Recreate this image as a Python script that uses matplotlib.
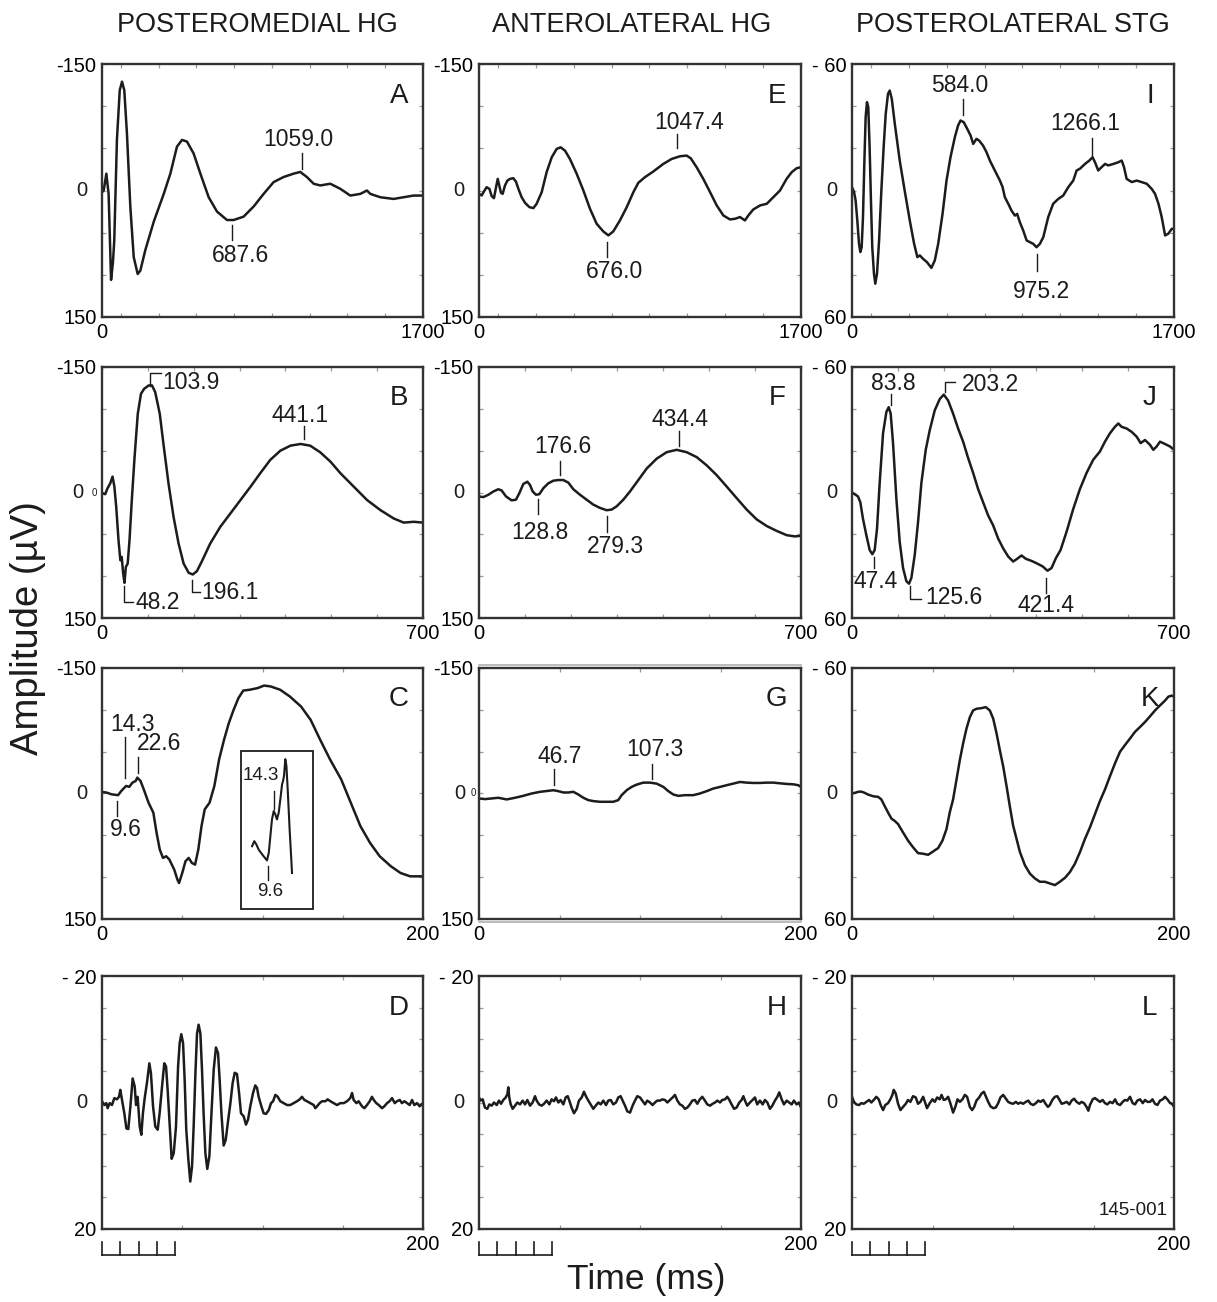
import numpy as np
import matplotlib
matplotlib.use("Agg")
import matplotlib.pyplot as plt
import matplotlib.transforms as mtransforms
from matplotlib.patches import Rectangle

plt.rcParams.update({
    "font.family": ["Liberation Sans", "DejaVu Sans"],
    "figure.facecolor": "white",
    "savefig.facecolor": "white",
})

INK = "#1c1c1c"
FRAME = "#333333"
TICK = "#9a9a9a"

# ---------------------------------------------------------------- data
COLUMN_TITLES = ["POSTEROMEDIAL HG", "ANTEROLATERAL HG", "POSTEROLATERAL STG"]
GRID = [["A", "E", "I"], ["B", "F", "J"], ["C", "G", "K"], ["D", "H", "L"]]
ROW_XMAX = [1700, 700, 200, 200]                      # ms
ROW_XMINOR = [list(range(100, 1700, 200)), list(range(100, 700, 100)),
              [50, 100, 150], [50, 100, 150]]
YMAX = {"A": 150, "B": 150, "C": 150, "D": 20,
        "E": 150, "F": 150, "G": 150, "H": 20,
        "I": 60, "J": 60, "K": 60, "L": 20}           # µV, negative up
YLABELS = {150: ["-150", "150"], 60: ["- 60", "60"], 20: ["- 20", "20"]}
YMINOR = {150: 50, 60: 20, 20: 5}

# (time ms, amplitude µV)
A_WAVE = [(0, 2), (9, 0), (23, -20), (35, 4), (48, 106), (58, 85), (65, 59), (79, -60),
          (94, -119), (106, -129), (118, -119), (132, -68), (150, 19), (168, 79), (189, 99),
          (203, 95), (229, 71), (274, 37), (327, 4), (362, -20), (397, -52), (424, -60),
          (450, -58), (485, -44), (521, -20), (565, 8), (609, 25), (662, 35), (697, 35),
          (750, 31), (803, 19), (856, 4), (909, -10), (962, -16), (1015, -20), (1050, -22),
          (1085, -16), (1121, -8), (1156, -6), (1209, -8), (1262, -2), (1315, 6), (1368, 4),
          (1403, 0), (1421, 4), (1474, 8), (1544, 10), (1597, 8), (1650, 6), (1700, 6)]
B_WAVE = [(0, 0), (2, 1), (7, 2), (12, -5), (18, -11), (23, -19), (27, -7), (31, 17), (36, 57),
          (40, 81), (43, 77), (46, 96), (49, 108), (52, 89), (56, 85), (60, 57), (65, 9),
          (71, -42), (78, -94), (85, -118), (92, -124), (102, -128), (109, -128), (116, -120),
          (126, -94), (134, -58), (145, -11), (156, 29), (167, 61), (178, 85), (189, 96),
          (198, 98), (207, 94), (218, 82), (236, 61), (258, 41), (280, 25), (302, 9), (324, -7),
          (345, -23), (367, -39), (389, -50), (411, -56), (433, -58), (454, -56), (476, -48),
          (498, -37), (520, -23), (549, -7), (578, 9), (607, 21), (636, 31), (658, 36),
          (680, 35), (700, 36)]
C_WAVE = [(0, -2), (3, -1), (6, 1), (10, 2), (12, -3), (14, -7), (15, -9), (17, -8), (19, -13),
          (21, -15), (22, -19), (24, -15), (26, -5), (29, 11), (32, 23), (34, 47), (36, 67),
          (38, 77), (40, 75), (42, 79), (45, 91), (47, 103), (48, 107), (50, 95), (52, 81),
          (54, 77), (56, 83), (58, 85), (60, 67), (62, 39), (64, 19), (67, 11), (70, -9),
          (73, -41), (76, -64), (79, -84), (82, -100), (85, -114), (88, -123), (92, -124),
          (97, -126), (101, -129), (105, -128), (111, -124), (117, -116), (124, -104),
          (130, -88), (136, -64), (142, -41), (149, -17), (155, 11), (161, 39), (167, 59),
          (173, 75), (180, 87), (186, 95), (192, 99), (200, 99)]
C_INSET_WAVE = [(93.5, 63), (94.9, 57), (96.2, 61), (97.6, 67), (99.1, 71), (100.7, 75),
                (102.8, 80), (103.9, 71), (104.9, 51), (105.9, 31), (107.0, 21), (108.0, 25),
                (109.0, 31), (110.1, 23), (111.1, 7), (112.2, -11), (112.8, -15), (113.4, -21),
                (114.2, -41), (114.9, -33), (115.7, -5), (116.9, 43), (118.4, 95)]
D_WAVE = [(0.0, -0.2), (1.5, 0.4), (2.7, 0.1), (3.5, 0.9), (4.8, 0.1), (6.2, 0.4), (7.7, -0.7),
          (9.3, -0.5), (10.6, -0.9), (11.4, -2.0), (12.5, -0.4), (13.9, 1.7), (15.2, 4.1),
          (16.4, 4.2), (17.7, 0.6), (19.1, -3.8), (20.4, -2.5), (21.2, 0.4), (22.2, -0.9),
          (23.5, 3.8), (24.5, 5.1), (25.5, 1.7), (26.6, -0.7), (28.0, -3.1), (29.5, -6.2),
          (30.5, -4.6), (31.8, 0.6), (33.2, 3.8), (34.7, 4.3), (35.9, 1.7), (37.4, -2.5),
          (38.8, -6.2), (39.9, -5.7), (40.9, -2.0), (42.2, 3.8), (43.4, 8.9), (44.7, 8.0),
          (46.1, 3.8), (47.4, -5.7), (48.4, -9.4), (49.4, -10.8), (50.5, -9.4), (51.5, -3.6),
          (52.5, 4.3), (53.8, 9.0), (55.0, 12.5), (56.1, 10.1), (57.1, 3.8), (58.2, -4.6),
          (59.2, -10.9), (60.2, -12.3), (61.3, -10.9), (62.3, -5.2), (63.3, 1.7), (64.4, 8.0),
          (65.6, 10.5), (66.9, 8.5), (68.1, 2.2), (69.6, -5.2), (71.0, -8.7), (72.3, -7.8),
          (73.3, -3.6), (74.4, 1.7), (75.8, 6.8), (77.1, 5.9), (78.5, 3.0), (80.0, 0.1),
          (81.4, -3.1), (82.7, -4.7), (84.1, -4.5), (85.4, -1.5), (86.6, 1.7), (88.3, 2.2),
          (89.7, 3.5), (91.0, 2.7), (92.4, 0.6), (94.1, -1.5), (95.5, -2.7), (96.6, -2.3),
          (97.6, -0.9), (99.3, 0.6), (100.7, 1.7), (102.2, 1.8), (103.9, 1.2), (105.3, 0.1),
          (106.6, -0.2), (108.0, -1.2), (109.5, -0.9), (111.1, -0.2), (113.2, 0.1), (115.3, 0.4),
          (117.3, 0.4), (119.4, 0.1), (121.5, -0.2), (123.2, -0.5), (124.6, -0.9), (126.1, -0.4),
          (127.7, -0.2), (129.8, 0.1), (131.9, 0.4), (132.9, 0.9), (134.0, 0.6), (135.6, 0.1),
          (137.1, -0.2), (139.2, -0.2), (140.6, -0.5), (142.3, -0.2), (144.4, 0.1), (146.4, 0.4),
          (148.5, 0.1), (150.6, 0.1), (152.7, -0.2), (154.7, -0.7), (155.8, -1.5), (156.8, -0.4),
          (158.5, 0.1), (159.9, -0.2), (162.0, 0.6), (163.5, 0.9), (165.1, 0.4), (166.8, -0.2),
          (168.2, -0.9), (169.3, -0.4), (170.9, 0.1), (172.4, 0.4), (174.5, 0.9), (175.9, 0.6),
          (177.6, 0.1), (179.2, -0.2), (180.7, -0.7), (182.4, 0.1), (183.8, -0.2), (185.5, -0.4),
          (186.9, 0.1), (188.4, -0.2), (190.0, 0.1), (191.7, 0.4), (193.2, -0.4), (194.6, 0.4),
          (196.3, 0.1), (197.9, 0.6), (200.0, 0.1)]
E_WAVE = [(0, 3.9), (14, 5.9), (26, 1.2), (40, -3.9), (55, -2.0), (67, 6.7), (79, 9.1),
          (90, -3.9), (99, -13.8), (107, -5.9), (116, 2.8), (125, 3.9), (137, -5.9), (150, -11.8),
          (164, -13.8), (181, -14.6), (195, -10.6), (208, -2.0), (225, 7.9), (243, 14.6),
          (266, 19.7), (287, 20.9), (304, 15.8), (331, 2.0), (357, -21.7), (384, -39.4),
          (410, -49.3), (431, -51.2), (454, -47.3), (480, -37.4), (516, -19.7), (551, 0),
          (586, 21.7), (621, 39.4), (656, 48.5), (683, 53.2), (709, 48.5), (744, 35.5),
          (780, 19.7), (815, 2.0), (841, -9.1), (876, -15.8), (920, -22.5), (973, -31.5),
          (1017, -37.4), (1061, -40.6), (1096, -41.4), (1118, -38.2), (1149, -27.6),
          (1184, -13.8), (1220, 2.0), (1255, 17.7), (1290, 29.6), (1325, 34.3), (1352, 33.5),
          (1378, 31.5), (1404, 35.5), (1422, 29.6), (1448, 22.5), (1484, 17.7), (1519, 15.8),
          (1554, 7.9), (1589, 0), (1624, -13.8), (1651, -21.7), (1677, -26.4), (1700, -27.6)]
F_WAVE = [(0, 4.7), (9.4, 5.5), (20.3, 2.7), (31.2, -1.2), (42.0, -3.9), (49.3, -2.4),
          (58.7, 4.7), (71.0, 9.4), (80.4, 8.6), (87.7, 0.8), (96.4, -10.2), (105.1, -12.9),
          (110.9, -9.0), (116.7, -1.2), (123.9, 2.7), (131.2, 2.0), (139.8, -5.1), (150.7, -11.0),
          (161.6, -14.1), (172.5, -14.9), (183.3, -14.9), (194.2, -11.8), (205.1, -3.9),
          (219.6, 2.7), (234.0, 8.6), (248.5, 14.5), (263.0, 18.4), (277.5, 21.2), (288.4, 20.4),
          (299.3, 16.5), (313.7, 8.6), (328.2, -1.2), (346.4, -14.9), (364.5, -28.6),
          (386.2, -40.4), (408.0, -48.2), (429.7, -51.0), (451.4, -48.2), (473.2, -42.3),
          (494.9, -32.5), (516.6, -20.8), (538.4, -7.1), (560.1, 6.7), (581.9, 20.4),
          (603.6, 32.1), (625.3, 40.0), (647.1, 45.9), (668.8, 51.0), (686.9, 52.5), (700, 51.7)]
G_WAVE = [(0, 5.9), (3.7, 6.7), (7.9, 5.9), (12.0, 5.1), (17.2, 7.1), (22.4, 5.1), (27.5, 2.8),
          (32.7, 0), (37.9, -2.0), (43.1, -3.2), (46.2, -3.9), (49.3, -2.8), (52.4, -1.2),
          (55.5, -1.2), (58.6, -2.0), (61.7, 1.2), (64.8, 5.1), (67.9, 7.9), (71.0, 9.1),
          (75.1, 9.9), (79.3, 9.9), (83.4, 9.9), (86.5, 7.9), (88.6, 2.0), (91.7, -3.9),
          (94.8, -7.9), (97.9, -10.6), (102.1, -13.0), (106.2, -13.0), (110.3, -11.8),
          (114.5, -7.9), (117.6, -2.8), (120.7, 1.2), (123.8, 2.8), (127.9, 2.0), (133.1, 2.0),
          (137.2, 0), (141.4, -2.8), (145.5, -5.9), (149.7, -7.9), (153.8, -9.9), (157.9, -11.8),
          (162.1, -13.8), (166.2, -13.0), (170.4, -12.6), (174.5, -12.6), (178.6, -13.0),
          (182.8, -13.0), (186.9, -12.2), (191.1, -11.4), (195.2, -11.0), (198.3, -9.9),
          (200, -7.9)]
H_WAVE = [(0.0, -0.8), (1.0, -0.3), (2.3, -0.5), (3.7, 0.8), (5.2, 1.0), (6.4, 0.3), (7.9, 0.5),
          (9.3, 0.0), (11.0, 0.4), (12.4, -0.3), (13.7, 0.2), (15.1, -0.4), (16.6, -0.8),
          (17.6, -1.3), (18.2, -2.4), (18.8, -0.8), (19.7, 0.3), (20.9, 1.0), (22.4, 0.5),
          (23.8, 0.0), (25.5, 0.3), (27.1, -0.3), (28.6, 0.3), (30.0, -0.4), (31.7, 0.5),
          (33.3, 0.0), (34.8, -1.0), (35.8, -0.3), (37.3, 0.3), (38.9, 0.5), (40.4, 0.2),
          (42.0, -0.3), (43.7, 0.3), (45.1, -0.5), (46.6, -0.2), (47.8, -0.8), (49.3, 0.0),
          (50.7, -0.4), (52.4, 0.3), (53.8, -0.8), (55.1, -1.0), (56.1, -0.3), (57.5, 0.8),
          (59.0, 1.7), (60.7, 1.0), (62.1, -0.3), (63.8, -0.8), (65.2, -1.7), (66.4, -1.0),
          (67.9, -0.3), (69.3, 0.3), (71.0, 1.0), (72.5, 0.5), (74.1, 0.0), (75.6, 0.3),
          (77.2, -0.3), (78.9, 0.4), (80.3, -0.3), (81.8, -0.4), (83.4, 0.3), (85.1, 0.0),
          (86.5, -0.8), (88.0, -1.0), (89.2, -0.3), (90.7, 0.5), (92.1, 1.4), (93.8, 1.6),
          (95.4, 0.5), (96.9, -0.3), (98.3, -1.0), (100.0, -0.8), (101.4, -0.3), (103.1, 0.3),
          (104.5, -0.3), (106.2, 0.0), (107.8, 0.4), (109.3, 0.0), (110.7, -0.3), (112.4, -0.3),
          (113.9, -0.5), (115.5, -0.4), (117.0, 0.0), (118.6, -0.4), (120.3, -0.8),
          (121.7, -1.2), (123.2, -0.3), (124.8, 0.3), (126.3, 0.5), (127.9, 1.0), (129.4, 0.8),
          (131.0, 0.3), (132.5, -0.3), (134.1, -0.4), (135.6, 0.2), (137.2, -0.5), (138.7, -0.9),
          (140.3, -0.3), (141.8, 0.3), (143.5, 0.5), (145.1, 0.2), (146.6, 0.0), (148.0, -0.3),
          (149.7, 0.0), (151.1, -0.4), (152.8, -0.5), (154.2, -0.9), (155.5, -0.4), (156.9, 0.3),
          (158.4, 1.0), (160.0, 0.8), (161.7, 0.0), (163.1, -0.4), (164.2, -1.0), (165.2, -0.3),
          (166.6, 0.5), (168.3, 0.0), (169.9, -0.4), (171.4, -0.8), (172.8, 0.3), (174.5, -0.3),
          (176.2, 0.3), (177.6, -0.4), (179.1, 0.0), (180.7, 1.0), (182.2, 0.5), (183.8, -0.3),
          (185.3, -0.9), (186.5, -1.6), (188.0, -0.5), (189.4, 0.3), (191.1, -0.3), (192.7, 0.0),
          (194.2, 0.3), (195.6, -0.3), (197.3, 0.3), (198.7, 0.0), (200.0, 0.8)]
I_WAVE = [(0, -1.6), (11, 0.8), (19, 4.7), (28, 14.2), (37, 25.3), (44, 29.2), (51, 26.9),
          (58, 12.6), (65, -12.6), (72, -34.8), (79, -41.9), (86, -39.5), (93, -20.5), (100, 4.7),
          (107, 26.9), (116, 39.5), (123, 44.2), (132, 39.5), (143, 23.7), (155, 0), (167, -20.5),
          (178, -36.3), (190, -45.8), (199, -47.4), (210, -43.5), (226, -31.6), (252, -14.2),
          (278, 0), (305, 14.2), (328, 25.3), (345, 31.6), (358, 30.8), (375, 32.4), (396, 34.0),
          (419, 36.7), (437, 33.2), (455, 25.3), (478, 11.1), (499, -4.7), (520, -15.8),
          (543, -25.3), (560, -30.8), (573, -33.2), (590, -32.4), (604, -30.0), (626, -26.1),
          (640, -22.1), (657, -24.5), (671, -23.7), (692, -21.3), (710, -18.2), (728, -14.2),
          (745, -11.1), (763, -7.9), (781, -4.7), (795, -1.6), (807, 3.2), (825, 6.3), (842, 9.5),
          (860, 11.9), (872, 11.1), (886, 15.0), (904, 19.0), (922, 23.7), (939, 24.5),
          (957, 25.3), (974, 26.9), (992, 25.3), (1010, 22.1), (1036, 12.6), (1062, 6.3),
          (1089, 4.0), (1115, 2.4), (1142, -1.6), (1168, -4.7), (1186, -9.5), (1203, -10.3),
          (1230, -12.6), (1253, -14.2), (1270, -15.8), (1283, -13.4), (1300, -9.5), (1318, -11.1),
          (1336, -12.6), (1353, -11.9), (1380, -12.6), (1406, -13.4), (1424, -14.2),
          (1436, -11.1), (1450, -5.5), (1477, -4.0), (1503, -4.7), (1529, -4.0), (1556, -3.2),
          (1582, -0.8), (1600, 1.6), (1618, 6.3), (1635, 12.6), (1653, 21.3), (1670, 20.5),
          (1688, 18.2), (1700, 18.2)]
J_WAVE = [(0, 0), (5.8, 0.8), (13.1, 1.9), (18.1, 4.7), (23.9, 12.6), (31.2, 20.4), (38.4, 27.5),
          (44.2, 29.5), (49.3, 27.5), (54.4, 17.3), (60.2, -4.7), (67.5, -28.3), (74.7, -38.5),
          (79.8, -40.8), (84.1, -37.7), (89.2, -23.6), (96.5, 3.1), (103.7, 23.6), (111.0, 36.1),
          (118.2, 42.4), (124.0, 43.6), (129.1, 40.8), (136.4, 29.8), (143.6, 14.1),
          (150.9, -4.7), (160.3, -20.4), (169.0, -29.8), (179.9, -39.3), (190.8, -44.7),
          (199.5, -46.8), (208.9, -44.0), (219.8, -37.7), (230.7, -30.6), (241.6, -24.3),
          (252.4, -16.5), (263.3, -9.4), (274.2, -1.6), (285.1, 4.7), (296.0, 11.0),
          (306.8, 15.7), (317.7, 22.0), (328.6, 26.7), (339.5, 30.6), (350.4, 33.0),
          (359.1, 31.7), (368.5, 30.1), (377.9, 31.7), (390.3, 32.7), (401.1, 33.8),
          (414.2, 35.3), (425.1, 37.4), (433.8, 36.1), (443.2, 31.4), (453.4, 27.5),
          (466.4, 18.8), (480.9, 7.9), (495.4, -1.6), (510.0, -9.4), (524.5, -15.7),
          (539.0, -19.6), (549.9, -24.3), (560.7, -28.3), (571.6, -31.4), (578.9, -33.0),
          (586.1, -31.4), (597.0, -30.6), (607.9, -29.0), (618.8, -26.7), (627.5, -23.6),
          (636.9, -25.1), (647.8, -22.8), (655.0, -20.4), (662.3, -22.0), (669.5, -24.3),
          (680.4, -23.2), (691.3, -22.0), (700, -20.4)]
K_WAVE = [(0, 0), (1.7, -0.3), (3.7, -0.8), (5.8, -0.9), (7.9, -0.3), (10.0, 0.5), (13.1, 1.3),
          (16.2, 1.6), (18.2, 2.8), (20.3, 6.0), (22.4, 9.1), (24.5, 12.0), (26.5, 13.1),
          (28.6, 14.6), (31.7, 18.6), (34.8, 22.5), (37.9, 25.7), (41.0, 28.5), (44.2, 28.8),
          (47.3, 29.3), (50.4, 27.7), (53.5, 26.1), (56.2, 22.5), (58.7, 17.0), (60.7, 9.1),
          (62.8, 2.8), (64.9, -6.6), (67.0, -16.1), (69.0, -23.9), (71.1, -31.0), (73.2, -36.5),
          (75.2, -39.7), (77.3, -40.5), (80.4, -40.8), (83.1, -41.3), (85.6, -39.7),
          (87.7, -35.8), (89.8, -28.7), (91.8, -20.8), (93.9, -13.0), (96.0, -3.5), (98.0, 6.0),
          (100.1, 15.4), (102.2, 21.7), (104.3, 28.0), (107.4, 34.3), (110.5, 38.3),
          (113.6, 40.6), (116.7, 42.2), (119.8, 42.2), (122.9, 43.0), (126.0, 43.8),
          (129.1, 42.2), (132.3, 40.3), (135.4, 37.5), (138.5, 33.5), (141.6, 28.0),
          (144.7, 21.7), (147.8, 16.2), (150.9, 9.9), (154.0, 3.6), (157.1, -1.9), (160.2, -8.2),
          (163.4, -14.5), (166.5, -20.0), (169.6, -23.2), (172.7, -26.3), (175.8, -29.5),
          (178.9, -31.8), (182.0, -34.2), (185.1, -36.9), (188.2, -39.7), (191.3, -42.1),
          (194.4, -44.4), (196.5, -46.3), (198.6, -46.8), (200, -46.3)]
L_WAVE = [(0.0, -0.9), (1.2, -0.1), (2.7, 0.3), (4.4, 0.4), (5.8, 0.1), (7.3, 0.2), (8.9, -0.1),
          (10.6, -0.4), (12.0, 0.0), (13.5, -0.4), (15.1, -0.9), (16.6, -0.5), (17.8, 0.4),
          (19.3, 1.2), (20.7, 0.4), (22.4, 0.1), (23.8, -0.5), (25.1, -1.2), (25.9, -2.0),
          (27.2, -1.4), (28.6, 0.2), (30.1, 1.2), (31.7, 0.7), (33.4, 0.2), (34.8, -0.4),
          (36.3, -0.1), (37.9, -1.0), (39.6, -0.8), (41.0, 0.2), (42.5, -0.1), (44.2, -0.9),
          (45.8, 0.3), (46.6, 0.9), (48.3, 0.1), (50.0, -0.5), (51.4, -0.1), (52.9, -0.8),
          (54.5, -0.5), (55.6, -1.2), (57.0, -0.4), (58.3, -0.5), (59.7, -0.9), (61.2, 0.2),
          (62.8, 1.6), (64.3, 0.6), (65.5, -0.5), (67.0, -0.1), (68.6, -0.5), (70.1, -1.2),
          (71.5, -0.9), (73.2, 0.7), (74.6, 1.2), (75.9, 0.7), (77.3, -0.3), (79.0, -0.8),
          (80.4, -1.4), (81.9, -1.7), (83.1, -1.0), (84.6, -0.1), (86.0, 0.6), (87.7, 0.9),
          (89.3, 0.8), (90.8, 0.1), (92.2, -0.8), (93.9, -1.2), (95.6, -0.6), (97.0, -0.1),
          (98.5, 0.1), (100.1, 0.2), (101.8, -0.1), (103.2, 0.2), (104.7, 0.0), (106.3, 0.2),
          (108.0, -0.1), (109.5, -0.3), (110.9, 0.2), (112.6, 0.4), (114.2, 0.1), (115.7, -0.3),
          (117.1, -0.1), (118.8, -0.4), (120.2, 0.2), (121.7, 0.7), (122.9, 0.4), (124.4, -0.4),
          (126.0, -0.9), (127.5, -1.0), (128.7, -0.5), (130.2, 0.2), (131.6, 0.1), (133.3, -0.1),
          (135.0, 0.3), (136.4, -0.3), (137.9, -0.6), (139.5, -0.1), (141.2, 0.2), (142.6, -0.1),
          (144.1, 0.1), (145.7, 0.7), (146.8, 1.3), (147.8, 0.4), (149.5, -0.5), (150.9, -0.7),
          (152.4, -0.4), (154.0, -0.1), (155.7, -0.4), (157.1, 0.1), (158.6, 0.3), (160.2, -0.1),
          (161.9, 0.1), (163.4, -0.5), (164.8, 0.2), (166.5, 0.4), (168.1, -0.1), (169.6, -0.4),
          (171.0, -0.3), (172.7, -0.9), (174.3, 0.1), (175.8, 0.3), (177.2, -0.3), (178.9, -0.5),
          (180.6, 0.1), (182.0, -0.4), (183.5, -0.1), (185.1, -0.1), (186.6, -0.5), (188.2, 0.2),
          (189.7, 0.4), (191.3, -0.3), (193.0, -0.5), (194.4, -0.9), (195.9, -0.5), (197.6, 0.1),
          (198.8, 0.2), (200.0, 0.7)]
WAVES = {"A": A_WAVE, "B": B_WAVE, "C": C_WAVE, "D": D_WAVE, "E": E_WAVE, "F": F_WAVE,
         "G": G_WAVE, "H": H_WAVE, "I": I_WAVE, "J": J_WAVE, "K": K_WAVE, "L": L_WAVE}

# peak latencies (ms) printed on the traces
PEAKS = {"A": ["1059.0", "687.6"], "B": ["103.9", "48.2", "196.1", "441.1"],
         "C": ["14.3", "22.6", "9.6"], "E": ["1047.4", "676.0"],
         "F": ["176.6", "434.4", "128.8", "279.3"], "G": ["46.7", "107.3"],
         "I": ["584.0", "1266.1", "975.2"], "J": ["83.8", "203.2", "47.4", "125.6", "421.4"]}
INSET_PEAKS = ["14.3", "9.6"]
RECORD_ID = "145-001"
SCALEBAR_MS = 45.5

# ---------------------------------------------------------------- layout
# per peak label: marker style, marker y-span / bracket, text x, text y
PEAK_LAYOUT = {
    "A": [("v", (-44, -26), 1041, -60), ("v", (41, 59), 733, 77)],
    "B": [("top", (-127, -143, 128), 132, -131), ("bot", (112, 131, 68), 72, 132),
          ("bot", (104, 119, 213), 217, 119), ("v", (-80, -64), 433, -92)],
    "C": [("v", (-68, -19), 18.7, -82), ("v", (-44, -25), 35.3, -60), ("v", (9, 27), 14.7, 43)],
    "E": [("v", (-67, -50), 1109, -81), ("v", (61, 79), 716, 96)],
    "F": [("v", (-38, -21), 182, -55), ("v", (-74, -55), 437, -87),
          ("v", (8, 26), 133, 48), ("v", (28, 47), 296, 65)],
    "G": [("v", (-29, -10), 50, -44), ("v", (-35, -17), 109.5, -53)],
    "I": [("v", (-43.5, -36), 567, -50), ("v", (-25, -17), 1230, -32), ("v", (30, 38), 999, 48)],
    "J": [("v", (-47, -42), 90.7, -52), ("top", (-47.9, -52.6, 223), 238, -51.8),
          ("v", (31, 36), 50.8, 42.4), ("bot", (44.7, 51, 151), 160, 50.2),
          ("v", (40.8, 47.9), 421.5, 54.2)],
}
INSET_BOX = (86.6, -51, 131.2, 138)
INSET_LAYOUT = [(107.0, (-3, 19), 98.7, -21), (103.4, (87, 103), 104.5, 117)]
# pixel gap between axis and the "0" label (and the tiny stray "0" in B and G)
ZERO_GAP = {"B": (19, 8), "G": (14, 6)}

W, H = 1217, 1302
COL_LEFT, COL_RIGHT = [102, 479, 852], [423, 801, 1174]
ROW_TOP, ROW_BOTTOM = [64, 367, 668, 976], [317, 618, 919, 1229]

fig = plt.figure(figsize=(W / 100, H / 100), dpi=100)


def draw_peak(ax, x, style, span, tx, ty, size=16.5):
    if style == "v":
        ax.plot([x, x], span, color=INK, lw=1.0)
        ax.text(tx, ty, f"{x:.1f}", ha="center", va="center", fontsize=size, color=INK)
        return
    y0, y1, xend = span
    ax.plot([x, x, xend], [y0, y1, y1], color=INK, lw=1.0)
    ax.text(tx, ty, f"{x:.1f}", ha="left", va="center", fontsize=size, color=INK)


def shifted(ax, px):
    base = mtransforms.blended_transform_factory(ax.transAxes, ax.transData)
    return base + mtransforms.ScaledTranslation(-px / 100, 0, fig.dpi_scale_trans)


for r, row in enumerate(GRID):
    for c, letter in enumerate(row):
        l, rt, t, b = COL_LEFT[c], COL_RIGHT[c], ROW_TOP[r], ROW_BOTTOM[r]
        ax = fig.add_axes([l / W, 1 - b / H, (rt - l) / W, (b - t) / H])
        wave = np.array(WAVES[letter], dtype=float)
        ax.plot(wave[:, 0], wave[:, 1], color=INK, lw=1.8, solid_joinstyle="round")

        xmax, ymax = ROW_XMAX[r], YMAX[letter]
        ax.set_xlim(0, xmax)
        ax.set_ylim(ymax, -ymax)
        ax.set_yticks([-ymax, ymax])
        ax.set_yticklabels(YLABELS[ymax])
        ax.set_yticks(np.arange(-ymax, ymax + 1, YMINOR[ymax]), minor=True)
        if r < 3:
            ax.set_xticks([0, xmax])
            ax.set_xticklabels(["0", str(xmax)])
        else:
            ax.set_xticks([xmax])
            ax.set_xticklabels([str(xmax)])
        ax.set_xticks(ROW_XMINOR[r], minor=True)
        ax.tick_params(which="both", direction="in", top=True, right=True, length=3,
                       width=0.9, color=TICK, labelsize=14.5, pad=4)
        for sp in ax.spines.values():
            sp.set_color(FRAME)
            sp.set_linewidth(1.7)

        # zero label sits further from the axis than the range labels
        gap, stray = ZERO_GAP.get(letter, (15, None))
        ax.text(0, 0, "0", transform=shifted(ax, gap), ha="right", va="center",
                fontsize=14.5, color=INK)
        if stray is not None:
            ax.text(0, 0, "0", transform=shifted(ax, stray), ha="center", va="center",
                    fontsize=7, color=INK)

        ax.text(0.925, 0.875, letter, transform=ax.transAxes, ha="center", va="center",
                fontsize=20, color=INK)

        for lab, (style, span, tx, ty) in zip(PEAKS.get(letter, []), PEAK_LAYOUT.get(letter, [])):
            draw_peak(ax, float(lab), style, span, tx, ty)

        if letter == "G":
            for yy in (1.012, -0.012):
                ax.plot([0, 1], [yy, yy], transform=ax.transAxes, color="#b0b0b0",
                        lw=1.2, clip_on=False)

        if letter == "C":
            x0, y0, x1, y1 = INSET_BOX
            ax.add_patch(Rectangle((x0, y0), x1 - x0, y1 - y0, fill=False,
                                   edgecolor=INK, lw=1.3))
            iw = np.array(C_INSET_WAVE)
            ax.plot(iw[:, 0], iw[:, 1], color=INK, lw=1.5)
            for lab, (mx, span, tx, ty) in zip(INSET_PEAKS, INSET_LAYOUT):
                ax.plot([mx, mx], span, color=INK, lw=1.0)
                ax.text(tx, ty, lab, ha="center", va="center", fontsize=13.5, color=INK)

        if letter == "L":
            ax.text(0.872, 0.075, RECORD_ID, transform=ax.transAxes, ha="center",
                    va="center", fontsize=13.5, color=INK)

        if r == 3:
            # time scale bar under the bottom row
            tr = mtransforms.blended_transform_factory(ax.transData, ax.transAxes)
            ax.plot([0, SCALEBAR_MS], [-0.103, -0.103], transform=tr, color=INK,
                    lw=1.2, clip_on=False)
            for k in range(5):
                xk = SCALEBAR_MS * k / 4
                ax.plot([xk, xk], [-0.103, -0.05], transform=tr, color=INK,
                        lw=1.2, clip_on=False)

for c, title in enumerate(COLUMN_TITLES):
    xc = [257, 632, 1013][c]
    fig.text(xc / W, 1 - 25 / H, title, ha="center", va="center", fontsize=19.5, color=INK)

fig.text(28 / W, 1 - 628 / H, "Amplitude (µV)", rotation=90, ha="center", va="center",
         fontsize=27.5, color=INK)
fig.text(646 / W, 1 - 1280 / H, "Time (ms)", ha="center", va="center", fontsize=25.5,
         color=INK)

fig.savefig("out.png", dpi=100)
